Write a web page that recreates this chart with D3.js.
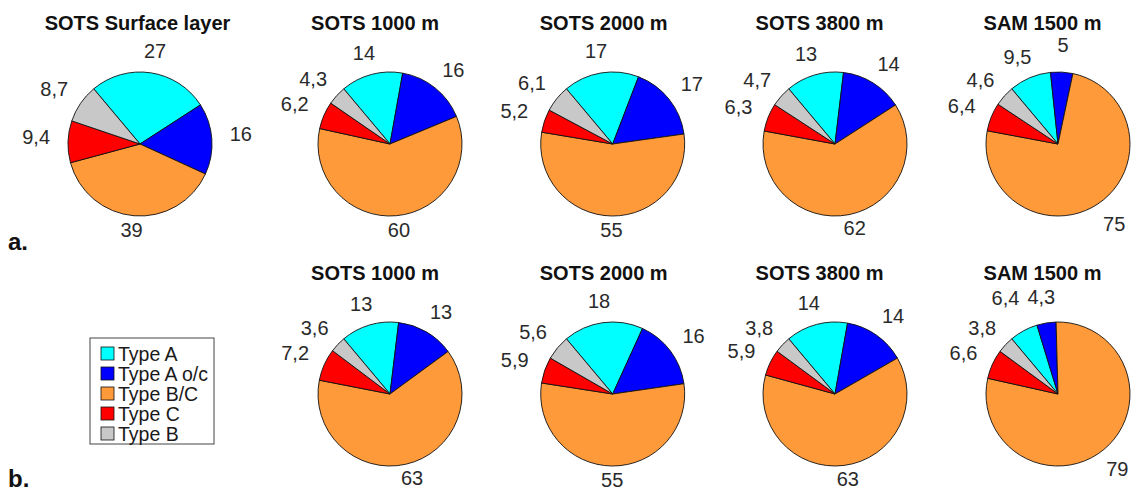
<html>
<head>
<script src="https://d3js.org/d3.v7.min.js"></script>
<style>
  body { margin: 0; background: #fff; }
  text { font-family: "Liberation Sans", Arial, sans-serif; }
</style>
</head>
<body>
<svg id="svg" width="1137" height="493"></svg>
<script>
// categories and colours (clockwise order of slices)
var categories = ["Type A", "Type A o/c", "Type B/C", "Type C", "Type B"];
var colors = ["#00ffff", "#0000ff", "#ff9a3a", "#ff0000", "#c8c8c8"];

// row a
var titlesA = ["SOTS Surface layer", "SOTS 1000 m", "SOTS 2000 m", "SOTS 3800 m", "SAM 1500 m"];
var surfaceA = [27, 16, 39, 9.4, 8.7];
var sots1000A = [14, 16, 60, 6.2, 4.3];
var sots2000A = [17, 17, 55, 5.2, 6.1];
var sots3800A = [13, 14, 62, 6.3, 4.7];
var sam1500A = [9.5, 5, 75, 6.4, 4.6];

// row b
var titlesB = ["SOTS 1000 m", "SOTS 2000 m", "SOTS 3800 m", "SAM 1500 m"];
var sots1000B = [13, 13, 63, 7.2, 3.6];
var sots2000B = [18, 16, 55, 5.9, 5.6];
var sots3800B = [14, 14, 63, 5.9, 3.8];
var sam1500B = [6.4, 4.3, 79, 6.6, 3.8];

// layout
var colX = [140, 390, 612.7, 835, 1058];
var rowY = [144, 394];
var titleShift = [-2.5, -15, -9, -15.5, -15.5];
var radius = 72;
var labelR = 90;
var startDeg = -40;

var panels = [
    {title: titlesA[0], values: surfaceA, col: 0, row: 0},
    {title: titlesA[1], values: sots1000A, col: 1, row: 0},
    {title: titlesA[2], values: sots2000A, col: 2, row: 0},
    {title: titlesA[3], values: sots3800A, col: 3, row: 0},
    {title: titlesA[4], values: sam1500A, col: 4, row: 0, nudge: {1: [0, -5], 2: [0, 9]}},
    {title: titlesB[0], values: sots1000B, col: 1, row: 1},
    {title: titlesB[1], values: sots2000B, col: 2, row: 1},
    {title: titlesB[2], values: sots3800B, col: 3, row: 1},
    {title: titlesB[3], values: sam1500B, col: 4, row: 1, nudge: {0: [-3, -13], 1: [0, -4], 2: [-5, 10]}}
];

var svg = d3.select("svg");
var start = startDeg * Math.PI / 180;
var pie = d3.pie().sort(null).value(function(d){ return d; })
            .startAngle(start).endAngle(start + 2 * Math.PI);
var arc = d3.arc().innerRadius(0).outerRadius(radius);
var fmt = function(v){ return String(v).replace(".", ","); };

panels.forEach(function(p){
    var cx = colX[p.col], cy = rowY[p.row];
    var g = svg.append("g").attr("transform", "translate(" + cx + "," + cy + ")");

    g.selectAll("path.slice")
        .data(pie(p.values))
        .enter().append("path")
        .attr("class", "slice")
        .attr("d", arc)
        .attr("fill", function(d, i){ return colors[i]; })
        .attr("stroke", "#111")
        .attr("stroke-width", 0.9)
        .attr("stroke-linejoin", "round");

    g.selectAll("text.lab")
        .data(pie(p.values))
        .enter().append("text")
        .attr("class", "lab")
        .attr("text-anchor", "middle")
        .attr("dy", "0.35em")
        .style("font-size", "20px")
        .attr("fill", "#2a2a2a")
        .text(function(d){ return fmt(d.data); })
        .each(function(d, i){
            var a = (d.startAngle + d.endAngle) / 2;
            var w = this.getComputedTextLength();
            var x = labelR * Math.sin(a) + w / 2 * Math.sin(a);
            var y = -labelR * Math.cos(a) - 4;
            if (p.nudge && p.nudge[i]) { x += p.nudge[i][0]; y += p.nudge[i][1]; }
            d3.select(this).attr("x", x).attr("y", y);
        });

    svg.append("text")
        .attr("x", cx + titleShift[p.col])
        .attr("y", cy - 114)
        .attr("text-anchor", "middle")
        .style("font-size", "20px")
        .style("font-weight", "bold")
        .attr("fill", "#111")
        .text(p.title);
});

// panel letters
svg.append("text").attr("x", 8).attr("y", 250)
    .style("font-size", "24px").style("font-weight", "bold").attr("fill", "#111").text("a.");
svg.append("text").attr("x", 8).attr("y", 487)
    .style("font-size", "24px").style("font-weight", "bold").attr("fill", "#111").text("b.");

// legend
var legend = svg.append("g").attr("transform", "translate(90,338)");
legend.append("rect")
    .attr("width", 124).attr("height", 106)
    .attr("fill", "#fff").attr("stroke", "#444").attr("stroke-width", 1);
var rows = legend.selectAll("g.row").data(categories).enter().append("g")
    .attr("class", "row")
    .attr("transform", function(d, i){ return "translate(11," + (9 + i * 20) + ")"; });
rows.append("rect")
    .attr("width", 13).attr("height", 13)
    .attr("fill", function(d, i){ return colors[i]; })
    .attr("stroke", "#111").attr("stroke-width", 0.8);
rows.append("text")
    .attr("x", 17).attr("y", 13.5)
    .style("font-size", "19.5px").attr("fill", "#1a1a1a")
    .text(function(d){ return d; });
</script>
</body>
</html>
